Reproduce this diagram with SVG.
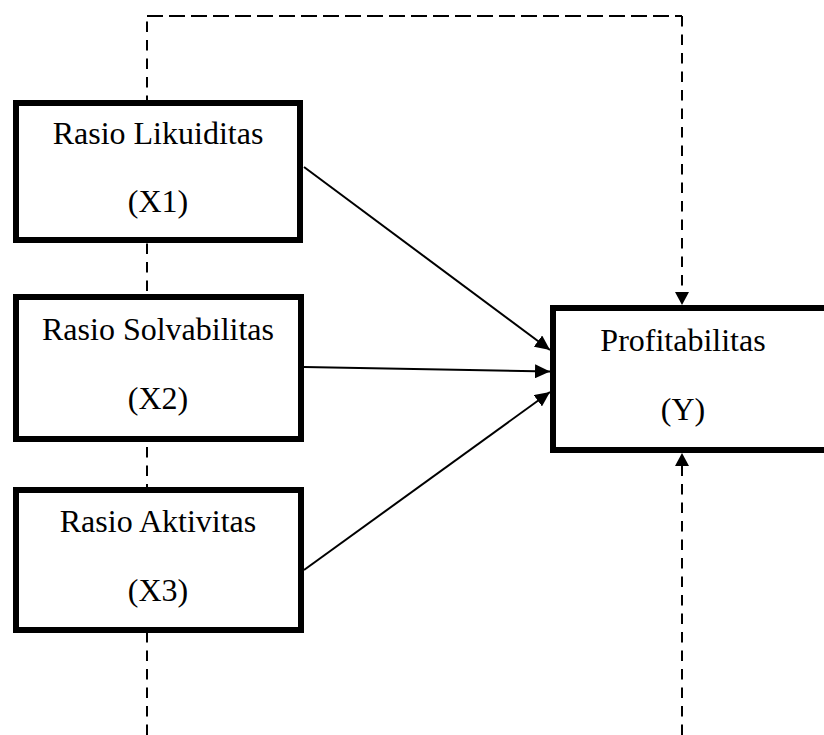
<svg xmlns="http://www.w3.org/2000/svg" width="824" height="735" viewBox="0 0 824 735">
<style>
.box{fill:#fff;stroke:#000;stroke-width:6}
.lbl{font-family:"Liberation Serif","Times New Roman",serif;font-size:32px;fill:#000;text-anchor:middle}
.dv{fill:none;stroke:#000;stroke-width:2;stroke-dasharray:10.5 8}
.dh{fill:none;stroke:#000;stroke-width:2;stroke-dasharray:16 6}
.sol{fill:none;stroke:#000;stroke-width:2}
</style>
<defs>
<marker id="ah" markerUnits="userSpaceOnUse" markerWidth="16" markerHeight="14" refX="15" refY="7" orient="auto">
<path d="M0,0 L15,7 L0,14 Z" fill="#000"/>
</marker>
</defs>
<g id="connectors">
<path class="dv" d="M147,735 V16"/>
<path class="dh" d="M147,16 H682"/>
<path class="dv" d="M682,16 V293"/>
<path d="M675,292 L689,292 L682,305 Z" fill="#000"/>
<path class="dv" d="M682,735 V466"/>
<path d="M675,466 L689,466 L682,453 Z" fill="#000"/>
</g>
<g id="x1">
<rect class="box" x="16" y="103" width="284" height="137"/>
<text class="lbl" x="158" y="144">Rasio Likuiditas</text>
<text class="lbl" x="158" y="212">(X1)</text>
</g>
<g id="x2">
<rect class="box" x="16" y="297" width="285" height="142"/>
<text class="lbl" x="158" y="340">Rasio Solvabilitas</text>
<text class="lbl" x="158" y="409">(X2)</text>
</g>
<g id="x3">
<rect class="box" x="16" y="490" width="285" height="140"/>
<text class="lbl" x="158" y="532">Rasio Aktivitas</text>
<text class="lbl" x="158" y="601">(X3)</text>
</g>
<g id="y">
<rect class="box" x="553" y="308" width="290" height="142"/>
<text class="lbl" x="683" y="351">Profitabilitas</text>
<text class="lbl" x="683" y="420">(Y)</text>
</g>
<g id="solid-connectors">
<line class="sol" x1="304" y1="167" x2="550" y2="350" marker-end="url(#ah)"/>
<line class="sol" x1="304" y1="367" x2="550" y2="371.5" marker-end="url(#ah)"/>
<line class="sol" x1="304" y1="570" x2="550" y2="392" marker-end="url(#ah)"/>
</g>
</svg>
